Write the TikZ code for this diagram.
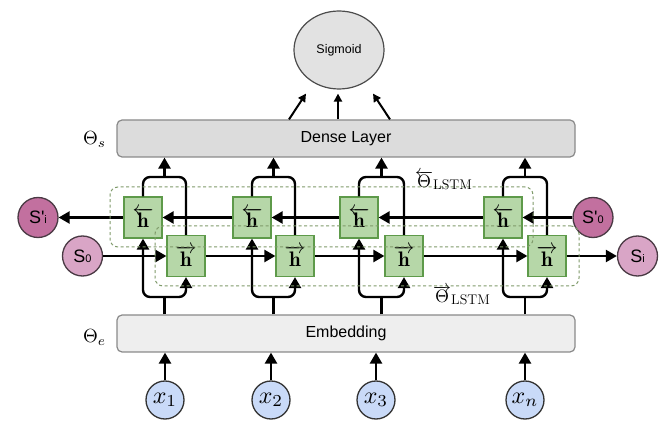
\documentclass[tikz,border=0pt]{standalone}
\usepackage{fontspec}
\newfontfamily\sansf{Liberation Sans}
\usetikzlibrary{arrows.meta,shapes.geometric,calc}

\definecolor{cellfill}{HTML}{B6D7A8}
\definecolor{celldraw}{HTML}{5E9A4A}
\definecolor{densefill}{HTML}{DCDCDC}
\definecolor{embfill}{HTML}{EEEEEE}
\definecolor{layerdraw}{HTML}{8A8A8A}
\definecolor{sigfill}{HTML}{E2E2E2}
\definecolor{inputfill}{HTML}{C9DAF8}
\definecolor{darkstate}{HTML}{C2709F}
\definecolor{lightstate}{HTML}{D9A5C6}
\definecolor{statedraw}{HTML}{4A3A44}
\definecolor{framecol}{HTML}{7F9A6A}

% math set at 10pt and enlarged as a whole
\newcommand{\bigmath}[2]{\scalebox{#1}{$#2$}}

\begin{document}
\begin{tikzpicture}[x=1pt,y=-1pt,
  layerbox/.style={draw=layerdraw, rounded corners=5pt, line width=1.2pt,
    minimum width=458pt, minimum height=37pt, inner sep=0pt,
    font=\sansf\fontsize{16}{18}\selectfont},
  cellbox/.style={draw=celldraw, fill=cellfill, line width=1.2pt,
    minimum width=38pt, minimum height=41pt, inner sep=0pt},
  statenode/.style={circle, draw=statedraw, line width=1.3pt,
    minimum size=40pt, inner sep=0pt, font=\sansf\fontsize{18}{18}\selectfont},
  inputnode/.style={circle, draw=black!80, fill=inputfill, line width=1.3pt,
    minimum size=38pt, inner sep=0pt},
  arrowtip/.tip={Triangle[length=11pt,width=12pt]},
  flow/.style={line width=2.4pt, -arrowtip},
  wire/.style={line width=2.4pt, rounded corners=7pt},
  sigarrow/.style={line width=2pt, -{Triangle[length=8pt,width=8pt]}},
  frame/.style={draw=framecol, dash pattern=on 3pt off 2.5pt, line width=1pt,
    rounded corners=8pt, inner sep=0pt},
  mathlabel/.style={inner sep=0pt}]

\useasboundingbox (0,0) rectangle (665,422);

% layers
\node[ellipse, draw=black!70, fill=sigfill, line width=1.2pt,
  minimum width=90pt, minimum height=78pt, inner sep=0pt,
  font=\sansf\fontsize{12.5}{14}\selectfont] (sig) at (339,50) {Sigmoid};
\node[layerbox, fill=densefill] (dense) at (346,138.5) {Dense Layer};
\node[layerbox, fill=embfill] (emb) at (346,333.5) {Embedding};

\node[mathlabel, anchor=base west] (thetas) at (83,145) {\bigmath{1.9}{\Theta_s}};
\node[mathlabel, anchor=base west] (thetae) at (83,343) {\bigmath{1.9}{\Theta_e}};

% dense layer feeding the sigmoid
\draw[sigarrow] ($(dense.north)+(-57,0)$) -- ($(sig.south)+(-33,4)$);
\draw[sigarrow] ($(dense.north)+(-8,0)$) -- ($(sig.south)+(-1,4)$);
\draw[sigarrow] ($(dense.north)+(44,0)$) -- ($(sig.south)+(34,4)$);

% inputs
\foreach \n/\x/\lab in {1/165/x_1, 2/271/x_2, 3/376/x_3, 4/525/x_n} {
  \node[inputnode] (x\n) at (\x,400) {\bigmath{2.4}{\lab}};
  \draw[flow] (x\n) -- (x\n |- emb.south);
}

% split and join heights of the cell wiring
\coordinate (split) at (0,297);
\coordinate (join) at (0,177);

% bidirectional LSTM cells
\foreach \i/\bx/\fx in {1/143/186, 2/252/295, 3/359/404, 4/503/547} {
  \node[cellbox] (b\i) at (\bx,217.5) {\bigmath{2.1}{\overleftarrow{\mathbf{h}}}};
  \node[cellbox] (f\i) at (\fx,256) {\bigmath{2.1}{\overrightarrow{\mathbf{h}}}};
  \coordinate (m\i) at ($(b\i)!0.5!(f\i)$);
  % embedding output split to both directions
  \draw[line width=2.4pt] (m\i |- emb.north) -- (m\i |- split);
  \draw[wire, arrowtip-arrowtip] (b\i.south) -- (b\i.south |- split)
    -- (f\i.south |- split) -- (f\i.south);
  % both directions joined into the dense layer
  \draw[wire] (b\i.north) -- (b\i.north |- join)
    -- (f\i.north |- join) -- (f\i.north);
  \draw[flow] (m\i |- join) -- (m\i |- dense.south);
}

% states
\node[statenode, fill=darkstate] (spi) at (38,217.5) {S'{\fontsize{11}{11}\selectfont i}};
\node[statenode, fill=lightstate] (s0) at (82.5,256) {S{\fontsize{11}{11}\selectfont 0}};
\node[statenode, fill=darkstate] (sp0) at (593,217.5) {S'{\fontsize{11}{11}\selectfont 0}};
\node[statenode, fill=lightstate] (si) at (637.5,256) {S{\fontsize{11}{11}\selectfont i}};

% backward chain
\draw[flow] (sp0) -- (b4);
\draw[flow] (b4) -- (b3);
\draw[flow] (b3) -- (b2);
\draw[flow] (b2) -- (b1);
\draw[flow] (b1) -- (spi);
% forward chain
\draw[flow] (s0) -- (f1);
\draw[flow] (f1) -- (f2);
\draw[flow] (f2) -- (f3);
\draw[flow] (f3) -- (f4);
\draw[flow] (f4) -- (si);

% parameter groups
\node[frame, minimum width=423pt, minimum height=60pt] (bwdgroup) at (321.5,217) {};
\node[frame, minimum width=424pt, minimum height=60pt] (fwdgroup) at (367,256) {};
\node[mathlabel, anchor=base west] (thetab) at (415,188)
  {\bigmath{1.8}{\overleftarrow{\Theta}}\raisebox{-2pt}{\fontsize{14}{14}\selectfont LSTM}};
\node[mathlabel, anchor=base west] (thetaf) at (433,303)
  {\bigmath{1.8}{\overrightarrow{\Theta}}\raisebox{-2pt}{\fontsize{14}{14}\selectfont LSTM}};

\end{tikzpicture}
\end{document}
